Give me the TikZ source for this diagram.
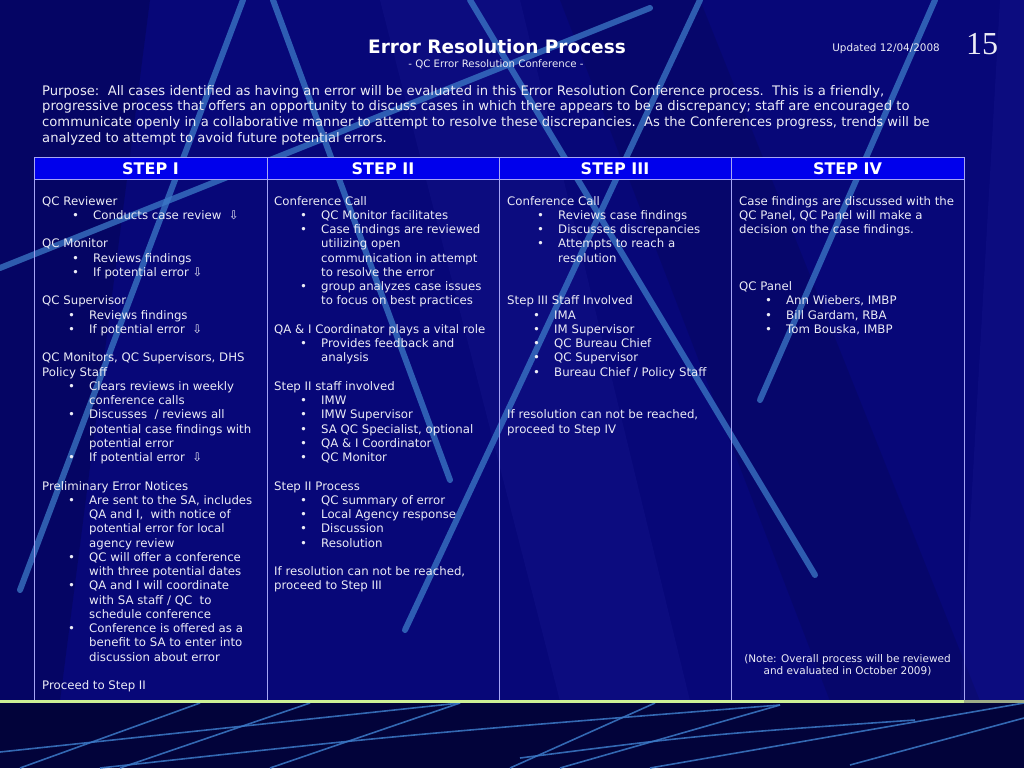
\documentclass[tikz,border=0pt]{standalone}
\usepackage{fontspec}
\setmainfont{DejaVu Sans}
\newfontfamily\numfont{Liberation Serif}
\definecolor{slidebg}{RGB}{7,7,120}
\definecolor{stripbg}{RGB}{2,3,58}
\definecolor{headbg}{RGB}{0,0,236}
\definecolor{gridcol}{RGB}{165,165,245}
\definecolor{streakcol}{RGB}{60,122,200}
\definecolor{edgecol}{RGB}{205,240,150}
\definecolor{txtcol}{RGB}{236,236,246}
\newcommand{\bitem}[1]{\hspace*{26pt}\makebox[21pt][l]{\textbullet}#1}
\newcommand{\bitemw}[1]{\hspace*{30pt}\makebox[21pt][l]{\textbullet}#1}
\newcommand{\cont}[1]{\hspace*{47pt}#1}
\newcommand{\contw}[1]{\hspace*{51pt}#1}
\newcommand{\dn}{⇩}
\newcommand{\cellbox}[1]{\parbox[t]{226pt}{\fontsize{11.75}{14.25}\selectfont\raggedright #1}}
\tikzset{
	streak/.style={line width=6pt, color=streakcol, opacity=0.75, line cap=round},
	thinstreak/.style={line width=1.6pt, color=streakcol, opacity=0.85},
	gridline/.style={line width=0.9pt, color=gridcol},
	txt/.style={text=txtcol, inner sep=0pt},
	headtxt/.style={text=white, inner sep=0pt, anchor=base, font=\bfseries\fontsize{16}{16}\selectfont}
}
\begin{document}
\begin{tikzpicture}[x=1pt,y=-1pt]
	%%%%% START %%%%%
	\useasboundingbox (0,0) rectangle (1024,768);
	\fill[slidebg] (0,0) rectangle (1024,701);
	
	% shaded bands
	\fill[black, opacity=0.16] (0,0) -- (150,0) -- (60,701) -- (0,701) -- cycle;
	\fill[black, opacity=0.10] (560,0) -- (700,0) -- (980,701) -- (830,701) -- cycle;
	\fill[blue!60!white, opacity=0.06] (380,0) -- (520,0) -- (690,701) -- (560,701) -- cycle;
	\fill[blue!60!white, opacity=0.06] (1000,0) -- (1024,0) -- (1024,701) -- (960,701) -- cycle;
	
	% streaks
	\draw[streak] (243,0) -- (20,590);
	\draw[streak] (0,268) -- (650,8);
	\draw[streak] (273,0) -- (450,480);
	\draw[streak] (470,0) -- (815,575);
	\draw[streak] (700,0) -- (405,630);
	\draw[streak] (935,0) -- (760,400);
	
	% bottom strip
	\fill[stripbg] (0,701) rectangle (1024,768);
	\draw[thinstreak] (20,768) -- (200,703);
	\draw[thinstreak] (120,768) -- (310,703);
	\draw[thinstreak] (0,752) -- (460,703);
	\draw[thinstreak] (270,768) -- (460,703);
	\draw[thinstreak] (100,768) .. controls (400,735) .. (780,705);
	\draw[thinstreak] (510,768) -- (655,703);
	\draw[thinstreak] (560,768) -- (780,705);
	\draw[thinstreak] (650,768) -- (1024,703);
	\draw[thinstreak] (850,765) -- (1024,718);
	\draw[thinstreak] (520,758) .. controls (700,735) .. (915,720);
	
	% title block
	\node[txt, text=white, anchor=base, font=\bfseries\fontsize{18.5}{18.5}\selectfont] (title) at (497,53) {Error Resolution Process};
	\node[txt, anchor=base, font=\fontsize{10.2}{10.2}\selectfont] (subtitle) at (496,67) {- QC Error Resolution Conference -};
	\node[txt, anchor=base east, font=\fontsize{10.4}{10.4}\selectfont] (updated) at (940,52) {Updated 12/04/2008};
	\node[txt, anchor=base west, font=\numfont\fontsize{32}{32}\selectfont] (pagenum) at (966,55) {15};
	
	\node[txt, anchor=base west] (purpose) at (42,95) {\parbox[t]{940pt}{\fontsize{13.15}{15.8}\selectfont
		Purpose:\ \ All cases identified as having an error will be evaluated in this Error Resolution Conference process.\ \ This is a friendly,\\
		progressive process that offers an opportunity to discuss cases in which there appears to be a discrepancy; staff are encouraged to\\
		communicate openly in a collaborative manner to attempt to resolve these discrepancies.\ \ As the Conferences progress, trends will be\\
		analyzed to attempt to avoid future potential errors.}};
	
	% table
	\fill[headbg] (34,157) rectangle (964,179);
	\draw[gridline] (34,157) rectangle (964,700);
	\draw[gridline] (34,179) -- (964,179);
	\foreach \x in {267,499,731}
		\draw[gridline] (\x,157) -- (\x,700);
	
	\node[headtxt] (head1) at (150.5,174) {STEP I};
	\node[headtxt] (head2) at (383,174) {STEP II};
	\node[headtxt] (head3) at (615,174) {STEP III};
	\node[headtxt] (head4) at (847.5,174) {STEP IV};
	
	\node[txt, anchor=base west] (cell1) at (42,205) {\cellbox{%
		QC Reviewer\\
		\bitemw{Conducts case review\ \ \dn}\\
		\mbox{}\\
		QC Monitor\\
		\bitemw{Reviews findings}\\
		\bitemw{If potential error \dn}\\
		\mbox{}\\
		QC Supervisor\\
		\bitem{Reviews findings}\\
		\bitem{If potential error\ \ \dn}\\
		\mbox{}\\
		QC Monitors, QC Supervisors, DHS\\
		Policy Staff\\
		\bitem{Clears reviews in weekly}\\
		\cont{conference calls}\\
		\bitem{Discusses\ \ / reviews all}\\
		\cont{potential case findings with}\\
		\cont{potential error}\\
		\bitem{If potential error\ \ \dn}\\
		\mbox{}\\
		Preliminary Error Notices\\
		\bitem{Are sent to the SA, includes}\\
		\cont{QA and I,\ \ with notice of}\\
		\cont{potential error for local}\\
		\cont{agency review}\\
		\bitem{QC will offer a conference}\\
		\cont{with three potential dates}\\
		\bitem{QA and I will coordinate}\\
		\cont{with SA staff / QC\ \ to}\\
		\cont{schedule conference}\\
		\bitem{Conference is offered as a}\\
		\cont{benefit to SA to enter into}\\
		\cont{discussion about error}\\
		\mbox{}\\
		Proceed to Step II}};
	
	\node[txt, anchor=base west] (cell2) at (274,205) {\cellbox{%
		Conference Call\\
		\bitem{QC Monitor facilitates}\\
		\bitem{Case findings are reviewed}\\
		\cont{utilizing open}\\
		\cont{communication in attempt}\\
		\cont{to resolve the error}\\
		\bitem{group analyzes case issues}\\
		\cont{to focus on best practices}\\
		\mbox{}\\
		QA \& I Coordinator plays a vital role\\
		\bitem{Provides feedback and}\\
		\cont{analysis}\\
		\mbox{}\\
		Step II staff involved\\
		\bitem{IMW}\\
		\bitem{IMW Supervisor}\\
		\bitem{SA QC Specialist, optional}\\
		\bitem{QA \& I Coordinator}\\
		\bitem{QC Monitor}\\
		\mbox{}\\
		Step II Process\\
		\bitem{QC summary of error}\\
		\bitem{Local Agency response}\\
		\bitem{Discussion}\\
		\bitem{Resolution}\\
		\mbox{}\\
		If resolution can not be reached,\\
		proceed to Step III}};
	
	\node[txt, anchor=base west] (cell3) at (507,205) {\cellbox{%
		Conference Call\\
		\bitemw{Reviews case findings}\\
		\bitemw{Discusses discrepancies}\\
		\bitemw{Attempts to reach a}\\
		\contw{resolution}\\
		\mbox{}\\
		\mbox{}\\
		Step III Staff Involved\\
		\bitem{IMA}\\
		\bitem{IM Supervisor}\\
		\bitem{QC Bureau Chief}\\
		\bitem{QC Supervisor}\\
		\bitem{Bureau Chief / Policy Staff}\\
		\mbox{}\\
		\mbox{}\\
		If resolution can not be reached,\\
		proceed to Step IV}};
	
	\node[txt, anchor=base west] (cell4) at (739,205) {\cellbox{%
		Case findings are discussed with the\\
		QC Panel, QC Panel will make a\\
		decision on the case findings.\\
		\mbox{}\\
		\mbox{}\\
		\mbox{}\\
		QC Panel\\
		\bitem{Ann Wiebers, IMBP}\\
		\bitem{Bill Gardam, RBA}\\
		\bitem{Tom Bouska, IMBP}}};
	
	\node[txt, anchor=base] (note) at (847.5,662) {\parbox[t]{226pt}{\centering\fontsize{10.5}{12.8}\selectfont
		(Note: Overall process will be reviewed\\
		and evaluated in October 2009)}};
	
	% edge line
	\draw[line width=2.4pt, color=edgecol] (0,701.5) -- (964,701.5);
	\draw[line width=2.4pt, color=edgecol!40!gray] (964,701.5) -- (1024,701.5);
	
	%%%%% END %%%%%
\end{tikzpicture}
\end{document}
